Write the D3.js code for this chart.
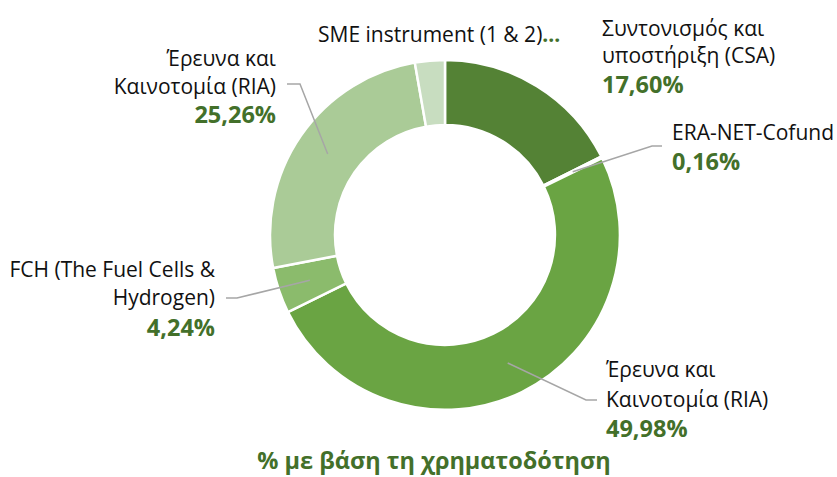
<!DOCTYPE html>
<html><head><meta charset="utf-8">
<script src="https://cdn.jsdelivr.net/npm/d3@7"></script>
<style>body{margin:0;background:#fff}svg{display:block}</style>
</head><body>
<script>
// ---- data ----
const categories = ["Συντονισμός και υποστήριξη (CSA)", "ERA-NET-Cofund", "Έρευνα και Καινοτομία (RIA)", "FCH (The Fuel Cells & Hydrogen)", "Έρευνα και Καινοτομία (RIA)", "SME instrument (1 & 2)"];
const values = [17.60, 0.16, 49.98, 4.24, 25.26, 2.76];
const labelLines = [
  ["Συντονισμός και", "υποστήριξη (CSA)"],
  ["ERA-NET-Cofund"],
  ["Έρευνα και", "Καινοτομία (RIA)"],
  ["FCH (The Fuel Cells &", "Hydrogen)"],
  ["Έρευνα και", "Καινοτομία (RIA)"],
  ["SME instrument (1 & 2)"]
];
const valueLabels = ["17,60%", "0,16%", "49,98%", "4,24%", "25,26%", "..."];
const title = "% με βάση τη χρηματοδότηση";

// ---- style / layout ----
const colors = ["#548235", "#548235", "#6AA443", "#8BBB6C", "#AACB97", "#C8DDC0"];
const valueColor = "#43702A";
const W = 837, H = 477, cx = 445, cy = 235, R = 175, r = 110;
const layout = [
  {x: 602, anchor: "start", ys: [36, 63], vy: 93, leader: null},
  {x: 672, anchor: "start", ys: [140], vy: 170, leader: {x0: 662, x1: 652, y: 146}},
  {x: 606, anchor: "start", ys: [377, 407], vy: 437, leader: {x0: 597, x1: 586, y: 400}},
  {x: 215, anchor: "end", ys: [277, 305], vy: 336, leader: {x0: 226, x1: 237, y: 298}},
  {x: 276, anchor: "end", ys: [66, 94], vy: 123, leader: {x0: 287, x1: 300, y: 84}},
  {x: 318, anchor: "start", ys: [42], vy: null, leader: null}
];
const FONT = "'Open Sans', 'Noto Sans', sans-serif";
const labelSize = 21, valueSize = 23.5, titleSize = 23.5;

const svg = d3.select("body").append("svg").attr("width", W).attr("height", H);
const g = svg.append("g").attr("transform", `translate(${cx},${cy})`);

const pie = d3.pie().sort(null).value(d => d);
const arcs = pie(values);
const arc = d3.arc().innerRadius(r).outerRadius(R);
const midArc = d3.arc().innerRadius((r + R) / 2).outerRadius((r + R) / 2);

g.selectAll("path.slice").data(arcs).join("path")
  .attr("class", "slice")
  .attr("d", arc)
  .attr("fill", (d, i) => colors[i])
  .attr("stroke", "#fff").attr("stroke-width", 2.5).attr("stroke-linejoin", "miter");

arcs.forEach((d, i) => {
  const L = layout[i].leader;
  if (!L) return;
  const c = midArc.centroid(d);
  svg.append("polyline")
    .attr("points", `${L.x0},${L.y} ${L.x1},${L.y} ${cx + c[0]},${cy + c[1]}`)
    .attr("fill", "none").attr("stroke", "#A6A6A6").attr("stroke-width", 1.5);
});

arcs.forEach((d, i) => {
  const Lo = layout[i];
  const t = svg.append("text").attr("font-family", FONT).attr("font-size", labelSize)
    .attr("fill", "#111").attr("text-anchor", Lo.anchor);
  labelLines[i].forEach((ln, j) => {
    t.append("tspan").attr("x", Lo.x).attr("y", Lo.ys[j]).text(ln);
  });
  if (Lo.vy === null) {
    t.append("tspan").attr("fill", valueColor).attr("font-weight", "bold").text(valueLabels[i]);
  } else {
    svg.append("text").attr("font-family", FONT).attr("font-size", valueSize).attr("font-weight", "bold")
      .attr("fill", valueColor).attr("text-anchor", Lo.anchor)
      .attr("x", Lo.x).attr("y", Lo.vy).text(valueLabels[i]);
  }
});

svg.append("text").attr("x", 434).attr("y", 469).attr("text-anchor", "middle")
  .attr("font-family", FONT).attr("font-size", titleSize).attr("font-weight", "bold")
  .attr("fill", valueColor).text(title);
</script>
</body></html>
